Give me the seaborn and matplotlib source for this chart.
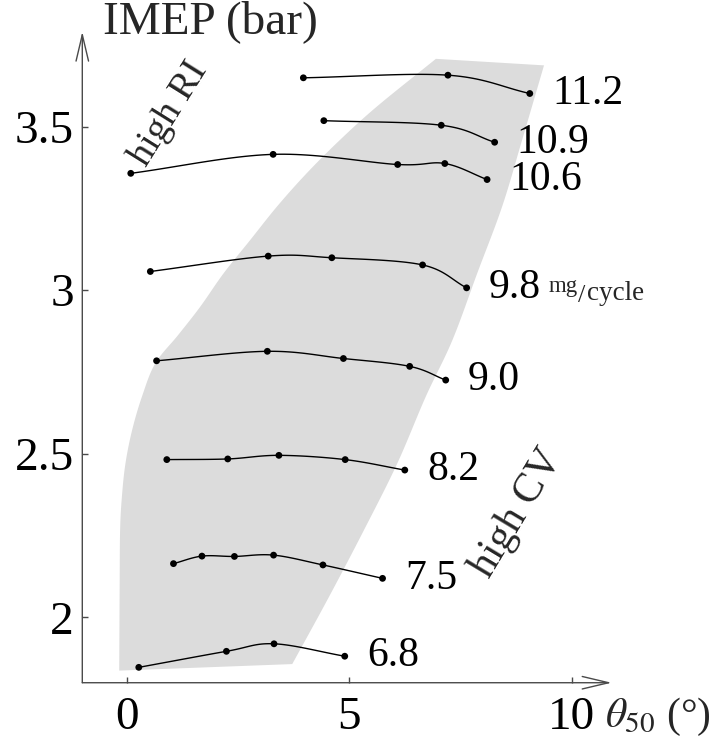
import numpy as np
import pandas as pd
import matplotlib
matplotlib.use("Agg")
import matplotlib.pyplot as plt
from matplotlib.patches import Polygon
import seaborn as sns

# Combustion phasing (theta_50, deg) and IMEP (bar) for each fuel quantity (mg/cycle)
fuel_labels = ["11.2", "10.9", "10.6", "9.8", "9.0", "8.2", "7.5", "6.8"]

theta_112 = [3.97, 7.22, 9.06]
imep_112 = [3.649, 3.657, 3.601]

theta_109 = [4.43, 7.07, 8.27]
imep_109 = [3.518, 3.504, 3.452]

theta_106 = [0.09, 3.29, 6.09, 7.15, 8.10]
imep_106 = [3.357, 3.415, 3.384, 3.387, 3.338]

theta_98 = [0.53, 3.18, 4.61, 6.65, 7.64]
imep_98 = [3.057, 3.104, 3.099, 3.077, 3.007]

theta_90 = [0.67, 3.16, 4.87, 6.36, 7.17]
imep_90 = [2.784, 2.813, 2.791, 2.767, 2.725]

theta_82 = [0.90, 2.27, 3.42, 4.91, 6.25]
imep_82 = [2.482, 2.484, 2.495, 2.482, 2.450]

theta_75 = [1.05, 1.69, 2.42, 3.30, 4.41, 5.75]
imep_75 = [2.164, 2.187, 2.186, 2.190, 2.160, 2.119]

theta_68 = [0.27, 2.24, 3.31, 4.90]
imep_68 = [1.847, 1.896, 1.919, 1.881]

# Stable operating region: low-phasing (high RI) and late-phasing (high CV) boundaries
left_edge_theta = [-0.17, -0.16, -0.15, -0.11, -0.03, 0.12, 0.34, 0.64, 1.15, 1.65,
                   2.18, 2.78, 3.38, 4.05, 4.80, 5.63, 6.95]
left_edge_imep = [1.837, 2.100, 2.266, 2.368, 2.470, 2.572, 2.674, 2.776, 2.862, 2.949,
                  3.052, 3.154, 3.256, 3.358, 3.460, 3.562, 3.707]
right_edge_theta = [9.38, 8.89, 8.44, 7.88, 7.32, 6.72, 6.08, 5.33, 4.54, 3.72]
right_edge_imep = [3.687, 3.460, 3.256, 3.052, 2.847, 2.674, 2.470, 2.266, 2.061, 1.857]

x_ticks = [0, 5, 10]
y_ticks = [2.0, 2.5, 3.0, 3.5]
y_tick_labels = ["2", "2.5", "3", "3.5"]

series = {
    "11.2": (theta_112, imep_112), "10.9": (theta_109, imep_109),
    "10.6": (theta_106, imep_106), "9.8": (theta_98, imep_98),
    "9.0": (theta_90, imep_90), "8.2": (theta_82, imep_82),
    "7.5": (theta_75, imep_75), "6.8": (theta_68, imep_68),
}


def catmull_rom(xs, ys, n=24):
    """Smooth curve passing through every given point."""
    p = np.column_stack([xs, ys]).astype(float)
    if len(p) < 3:
        return p[:, 0], p[:, 1]
    ext = np.vstack([2 * p[0] - p[1], p, 2 * p[-1] - p[-2]])
    out = []
    t = np.linspace(0, 1, n, endpoint=False)[:, None]
    for i in range(1, len(ext) - 2):
        p0, p1, p2, p3 = ext[i - 1], ext[i], ext[i + 1], ext[i + 2]
        seg = 0.5 * ((2 * p1) + (-p0 + p2) * t
                     + (2 * p0 - 5 * p1 + 4 * p2 - p3) * t ** 2
                     + (-p0 + 3 * p1 - 3 * p2 + p3) * t ** 3)
        out.append(seg)
    out.append(p[-1][None, :])
    out = np.vstack(out)
    return out[:, 0], out[:, 1]


pts_rows, curve_rows = [], []
for lab in fuel_labels:
    xs, ys = series[lab]
    for x, y in zip(xs, ys):
        pts_rows.append((lab, x, y))
    cx, cy = catmull_rom(xs, ys)
    for i, (x, y) in enumerate(zip(cx, cy)):
        curve_rows.append((lab, i, x, y))
pts = pd.DataFrame(pts_rows, columns=["fuel", "theta", "imep"])
curves = pd.DataFrame(curve_rows, columns=["fuel", "order", "theta", "imep"])

sns.set_theme(style="white")
plt.rcParams["font.family"] = ["Liberation Serif", "DejaVu Serif"]
plt.rcParams["mathtext.fontset"] = "stix"

fig = plt.figure(figsize=(7.27, 7.40), dpi=100)
ax = fig.add_axes([0.1132, 0.0774, 0.7281, 0.8798])
ax.set_xlim(-1.0, 10.9)
ax.set_ylim(1.80, 3.79)

lx, ly = catmull_rom(left_edge_theta, left_edge_imep, n=12)
rx, ry = catmull_rom(right_edge_theta, right_edge_imep, n=12)
outline = np.vstack([np.column_stack([lx, ly]), np.column_stack([rx, ry])])
region = Polygon(outline, closed=True, facecolor="#dcdcdc", edgecolor="none", zorder=0)
ax.add_patch(region)

sns.lineplot(data=curves, x="theta", y="imep", units="fuel", estimator=None,
             sort=False, color="black", linewidth=1.0, ax=ax, zorder=2)
sns.scatterplot(data=pts, x="theta", y="imep", color="black", s=24,
                edgecolor="none", ax=ax, zorder=3, legend=False)

for lab in fuel_labels:
    xs, ys = series[lab]
    ax.annotate(lab, xy=(xs[-1], ys[-1]), xytext=(16, 0), textcoords="offset points",
                ha="left", va="center", fontsize=30, color="black")

# unit for the fuel quantity, written next to the 9.8 curve
x98, y98 = theta_98[-1], imep_98[-1]
ax.annotate("mg", xy=(x98, y98), xytext=(59, -3), textcoords="offset points",
            ha="left", va="baseline", fontsize=16.5)
ax.annotate("/", xy=(x98, y98), xytext=(80.5, -10), textcoords="offset points",
            ha="left", va="baseline", fontsize=19)
ax.annotate("cycle", xy=(x98, y98), xytext=(87, -9), textcoords="offset points",
            ha="left", va="baseline", fontsize=19.5)

ax.text(0.95, 3.540, "high RI", rotation=58, fontsize=27.5, ha="center", va="center",
        rotation_mode="anchor")
ax.text(8.78, 2.318, "high CV", rotation=59, fontsize=30, ha="center", va="center",
        rotation_mode="anchor")

# axes drawn as arrows
for s in ax.spines.values():
    s.set_visible(False)
axis_color = "#4a4a4a"
arrow = dict(arrowstyle="->,head_length=1.9,head_width=0.45", lw=1.0,
             color=axis_color, shrinkA=0, shrinkB=0, mutation_scale=10)
ax.annotate("", xy=(1, 0), xytext=(0, 0), xycoords="axes fraction",
            textcoords="axes fraction", arrowprops=arrow, annotation_clip=False)
ax.annotate("", xy=(0, 1), xytext=(0, 0), xycoords="axes fraction",
            textcoords="axes fraction", arrowprops=arrow, annotation_clip=False)

ax.set_xticks(x_ticks)
ax.set_xticklabels([str(v) for v in x_ticks])
ax.set_yticks(y_ticks)
ax.set_yticklabels(y_tick_labels)
ax.tick_params(axis="both", direction="in", length=4.5, width=1.0, color=axis_color,
               labelsize=34, labelcolor="black")
ax.tick_params(axis="x", pad=10, bottom=True)
ax.tick_params(axis="y", pad=6, left=True)
ax.set_xlabel("")
ax.set_ylabel("")
ax.grid(False)

fig.text(103 / 727, 1 - 33 / 740, "IMEP (bar)", fontsize=34, ha="left", va="baseline")
fig.text(605 / 727, 1 - 727 / 740, r"$\theta_{50}$ (°)", fontsize=30, ha="left",
         va="baseline")

fig.savefig("out.png", dpi=100, facecolor="white")
